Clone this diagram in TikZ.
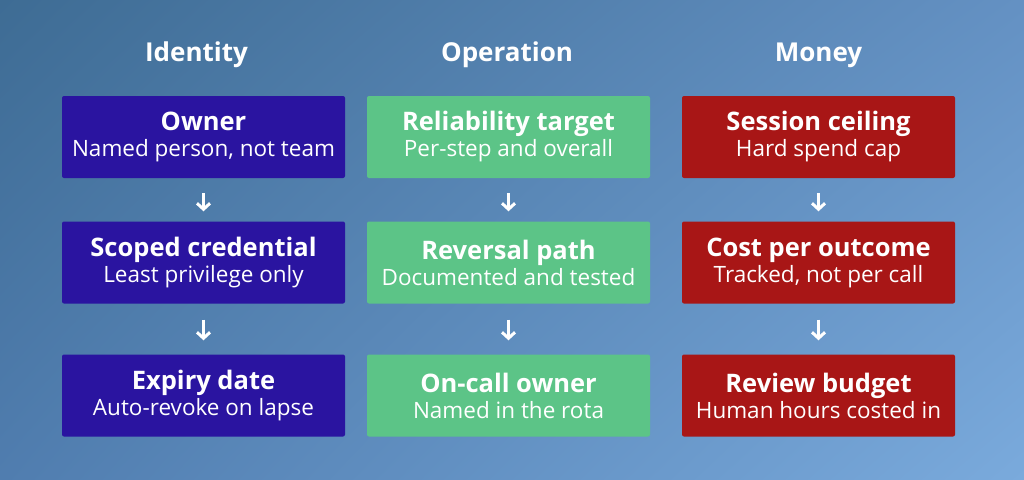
\documentclass[tikz,border=0pt]{standalone}
\usepackage{fontspec}
\setmainfont{Open Sans}
\usetikzlibrary{arrows.meta,shadings}
\definecolor{cb}{HTML}{2A14A0}
\definecolor{cg}{HTML}{5CC487}
\definecolor{cr}{HTML}{A81616}
\definecolor{ul}{RGB}{62,108,148}
\definecolor{ur}{RGB}{100,145,195}
\definecolor{ll}{RGB}{80,125,175}
\definecolor{lr}{RGB}{122,170,220}
\begin{document}
\begin{tikzpicture}[x=1pt,y=-1pt,
  box/.style={fill=#1,rounded corners=2pt,minimum width=283pt,minimum height=82pt,align=center,text=white,inner sep=0pt,font=\fontsize{22.5}{26}\selectfont},
  hd/.style={text=white,font=\fontsize{26}{30}\selectfont\bfseries},
  ar/.style={draw=white,line width=3pt,-{Straight Barb[length=6pt,width=13pt]}},
  ar1/.style={ar,shorten <=15pt,shorten >=10pt},
  ar2/.style={ar,shorten <=16pt,shorten >=14pt}]
\shade[upper left=ul,upper right=ur,lower left=ll,lower right=lr]
  (0,0) rectangle (1024,479);
\newcommand{\bx}[2]{{\fontsize{25.5}{26}\selectfont\bfseries #1}\\{#2}}
\node[hd] (h1) at (196.5,55) {Identity};
\node[hd] (h2) at (507,55) {Operation};
\node[hd] (h3) at (818.5,55) {Money};
\node[box=cb] (a1) at (203.5,137) {\bx{Owner}{Named person, not team}};
\node[box=cb] (a2) at (203.5,262.5) {\bx{Scoped credential}{Least privilege only}};
\node[box=cb] (a3) at (203.5,395.5) {\bx{Expiry date}{Auto-revoke on lapse}};
\node[box=cg] (b1) at (508.5,137) {\bx{Reliability target}{Per-step and overall}};
\node[box=cg] (b2) at (508.5,262.5) {\bx{Reversal path}{Documented and tested}};
\node[box=cg] (b3) at (508.5,395.5) {\bx{On-call owner}{Named in the rota}};
\node[box=cr,minimum width=273pt] (c1) at (818.5,137) {\bx{Session ceiling}{Hard spend cap}};
\node[box=cr,minimum width=273pt] (c2) at (818.5,262.5) {\bx{Cost per outcome}{Tracked, not per call}};
\node[box=cr,minimum width=273pt] (c3) at (818.5,395.5) {\bx{Review budget}{Human hours costed in}};
\draw[ar1] (a1) -- (a2); \draw[ar2] (a2) -- (a3);
\draw[ar1] (b1) -- (b2); \draw[ar2] (b2) -- (b3);
\draw[ar1] (c1) -- (c2); \draw[ar2] (c2) -- (c3);
\end{tikzpicture}
\end{document}
